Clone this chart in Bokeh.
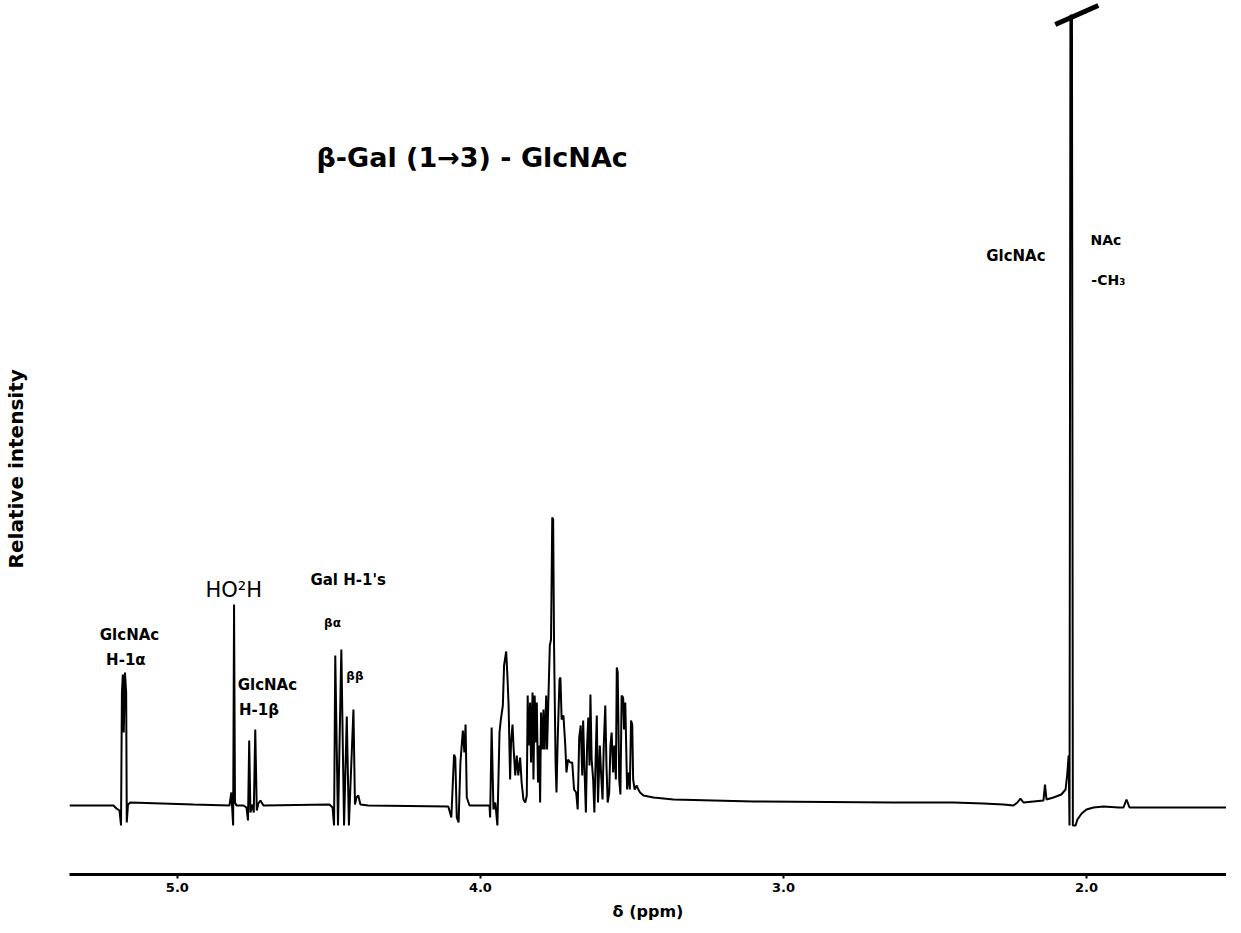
from bokeh.plotting import figure
from bokeh.models import Range1d, FixedTicker, Label, PrintfTickFormatter
from bokeh.embed import file_html
from bokeh.resources import INLINE

# 1H-NMR trace: chemical shift (ppm) and relative intensity
ppm = [5.356, 5.211, 5.201, 5.191, 5.186, 5.183, 5.180, 5.177, 5.173, 5.169, 5.167, 5.163, 5.155,
       4.947, 4.828, 4.822, 4.816, 4.813, 4.810, 4.805,
       4.782, 4.772, 4.767, 4.763, 4.759, 4.752, 4.748, 4.743, 4.738, 4.733, 4.726, 4.716,
       4.498, 4.488, 4.483, 4.479, 4.470, 4.459, 4.450, 4.441, 4.434, 4.419, 4.414, 4.409, 4.403, 4.396, 4.370,
       4.106, 4.096, 4.087, 4.083, 4.078, 4.072, 4.066, 4.058, 4.053, 4.049, 4.045, 4.036,
       3.970, 3.968, 3.963, 3.957, 3.951, 3.944, 3.937, 3.933, 3.926, 3.922, 3.915, 3.911, 3.907,
       3.902, 3.899, 3.894, 3.891, 3.885, 3.880, 3.875, 3.869, 3.864, 3.858, 3.852, 3.847, 3.844,
       3.841, 3.836, 3.833, 3.828, 3.825, 3.821, 3.817, 3.814, 3.810, 3.806, 3.803, 3.800, 3.795,
       3.792, 3.788, 3.783, 3.780, 3.776, 3.771, 3.767, 3.763, 3.760, 3.757, 3.752, 3.749, 3.745,
       3.739, 3.736, 3.732, 3.726, 3.720, 3.716, 3.711, 3.704, 3.697, 3.691, 3.684, 3.679, 3.674,
       3.669, 3.664, 3.661, 3.657, 3.652, 3.648, 3.644, 3.640, 3.637, 3.633, 3.628, 3.624, 3.619,
       3.616, 3.612, 3.606, 3.602, 3.597, 3.593, 3.588, 3.584, 3.580, 3.575, 3.571, 3.567, 3.562,
       3.558, 3.553, 3.550, 3.547, 3.542, 3.538, 3.534, 3.529, 3.526, 3.522, 3.519, 3.516, 3.512,
       3.507, 3.503, 3.499, 3.496, 3.491, 3.484, 3.479, 3.473, 3.462, 3.429, 3.363, 3.099, 2.637,
       2.439, 2.340, 2.274, 2.241, 2.228, 2.218, 2.208, 2.175, 2.142, 2.137, 2.132, 2.109, 2.083,
       2.069, 2.063, 2.059, 2.056, 2.053, 2.048, 2.045, 2.036, 2.030, 2.016, 2.000, 1.977, 1.944,
       1.894, 1.878, 1.868, 1.858, 1.828, 1.512]
intensity = [0, 0, -1.5, -2.5, -10, 56.5, 65.5, 36.5, 66.5, 56.5, -8.5, 0.5, 1.5,
             0.5, 0, 6.5, -10, 100.5, 1.5, 0,
             0, -1, -7.5, 32.5, -3.5, 0.5, -3.5, 38, -2.5, 1, 2.5, 0,
             0.5, -1, -10, 75, -10, 78, -10, 44.5, -10, 48, 0.5, 4, 5, 0.5, 0,
             -0.5, -6, 25.5, 24, -6, -8.5, 21.5, 37.5, 26.5, 40.5, 4, 0,
             0, -6, 39, -2, 1.5, -10, 36.5, 42.5, 50, 70, 77, 65, 50,
             13, 31.5, 40.5, 30, 15, 25, 15, 24, 11.5, 3, 1.5, 5, 55,
             30, 51.5, 21.5, 56.5, 13, 55, 31.5, 51.5, 11.5, 30, 1.5, 46.5, 28,
             48, 28, 55, 28, 51.5, 80, 83, 144, 143, 80, 21.5, 6.5, 33,
             63, 64, 43, 45, 30, 16.5, 23, 21.5, 21.5, 8, 6.5, -2, 34,
             40, 15, 42.5, 20, -3.5, 30, 44, 20, 55.5, 23, 13, -3.5, 28,
             45, 1.5, 30, 16.5, 3, 30, 50, 20, 1.5, 6.5, 30, 36.5, 16.5,
             30, 13, 69, 66.5, 13, 5.5, 55, 54, 38, 51.5, 30, 8, 16.5,
             8, 42.5, 40.5, 13, 8, 10, 8, 6.5, 5, 4, 3, 2, 1.5,
             1.5, 1, 0.5, 0, 1.5, 3.5, 1.5, 2, 2.5, 10.5, 3, 4, 5.5,
             8, 16.5, 25, -10, 395, 395, -10, -10, -7, -4, -2, -1, -0.5,
             -1, -1, 3, -1, -1, -1]

# x-axis ticks
tick_values = [5.0, 4.0, 3.0, 2.0]
tick_labels = ["5.0", "4.0", "3.0", "2.0"]

# off-scale (truncated) mark on the NAc-CH3 peak
break_ppm = [2.103, 1.961]
break_int = [390.5, 400.0]

# peak annotations
ann_text = ["GlcNAc", "H-1α", "HO²H", "GlcNAc", "H-1β", "Gal  H-1's", "βα", "ββ",
            "GlcNAc", "NAc", "-CH₃"]
ann_ppm = [5.158, 5.170, 4.814, 4.703, 4.731, 4.561, 4.488, 4.414, 2.233, 1.987, 1.984]
ann_int = [85.5, 73.0, 108.0, 60.5, 48.0, 113.0, 91.5, 65.0, 275.0, 283.0, 263.0]
title_text = "β-Gal (1→3) - GlcNAc"
ylabel_text = "Relative intensity"
xlabel_text = "δ (ppm)"

FONT = "DejaVu Sans"

p = figure(frame_width=1157, frame_height=874,
           x_range=Range1d(5.356, 1.538), y_range=Range1d(-34.5, 402.5),
           output_backend="svg", toolbar_location=None,
           min_border_left=68, min_border_right=0, min_border_top=0, min_border_bottom=0)
p.grid.visible = False
p.outline_line_color = None
p.background_fill_color = "white"

# x axis
xa = p.xaxis[0]
xa.ticker = FixedTicker(ticks=tick_values)
xa.formatter = PrintfTickFormatter(format="%.1f")
xa.axis_line_width = 3
xa.axis_line_color = "black"
xa.major_tick_out = 4
xa.major_tick_in = 0
xa.major_tick_line_width = 2
xa.minor_tick_out = 0
xa.minor_tick_in = 0
xa.minor_tick_line_color = None
xa.major_label_standoff = 4
xa.major_label_text_font = FONT
xa.major_label_text_font_style = "bold"
xa.major_label_text_font_size = "13px"
xa.major_label_text_color = "black"
xa.axis_label = xlabel_text
xa.axis_label_text_font = FONT
xa.axis_label_text_font_style = "bold"
xa.axis_label_text_font_size = "16px"
xa.axis_label_text_color = "black"
xa.axis_label_standoff = 7

# y axis: only its label (trailing no-break spaces move the centred label a little lower,
# as in the reference)
ya = p.yaxis[0]
ya.ticker = FixedTicker(ticks=[])
ya.axis_line_color = None
ya.major_tick_out = 0
ya.major_tick_in = 0
ya.major_tick_line_color = None
ya.minor_tick_out = 0
ya.minor_tick_in = 0
ya.minor_tick_line_color = None
ya.major_label_text_font_size = "0px"
ya.axis_label = ylabel_text + "\u00a0" * 9
ya.axis_label_text_font = FONT
ya.axis_label_text_font_style = "bold"
ya.axis_label_text_font_size = "20px"
ya.axis_label_text_color = "black"
ya.axis_label_standoff = 42

# spectrum
p.line(ppm, intensity, line_width=2, line_color="black")
p.line(break_ppm, break_int, line_width=5, line_color="black")

# title inside the plot
p.add_layout(Label(x=4.541, y=324, text=title_text, text_font=FONT, text_font_style="bold",
                   text_font_size="27px", text_align="left", text_baseline="middle",
                   text_color="black"))

sizes = ["15px", "15px", "21px", "15px", "15px", "15px", "12px", "12px", "15px", "14px", "14px"]
styles = ["bold"] * 11
styles[2] = "normal"
aligns = ["center"] * 11
aligns[5] = "left"
aligns[9] = "left"
aligns[10] = "left"
for t, x, y, s, st, al in zip(ann_text, ann_ppm, ann_int, sizes, styles, aligns):
    p.add_layout(Label(x=x, y=y, text=t, text_font=FONT, text_font_style=st,
                       text_font_size=s, text_align=al, text_baseline="middle",
                       text_color="black"))

open("out.html", "w").write(file_html(p, INLINE))
